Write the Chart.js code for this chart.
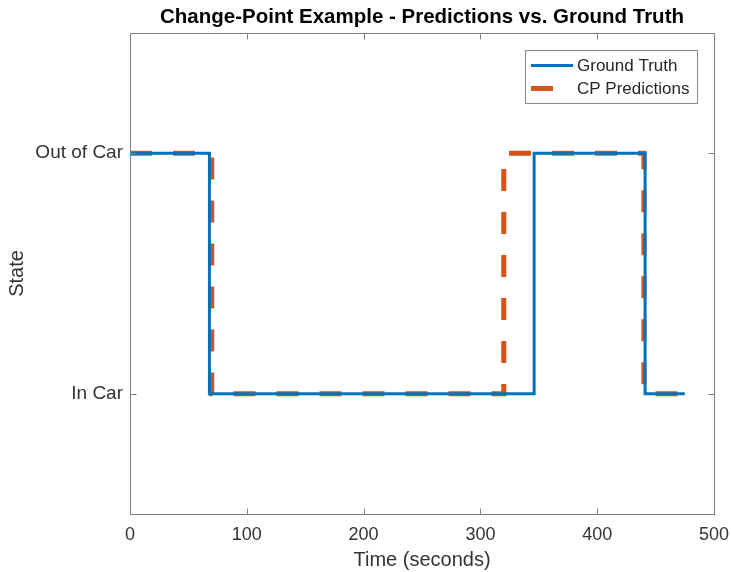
<!DOCTYPE html>
<html lang="en">
<head>
    <meta charset="UTF-8">
    <title>Change-Point Example</title>
    <script src="https://cdn.jsdelivr.net/npm/chart.js"></script>
    <style>
        body { margin: 0; background: #fff; }
        #chart-container { width: 731px; height: 572px; }
    </style>
</head>
<body>
    <div id="chart-container">
        <canvas id="cpChart" width="731" height="572"></canvas>
    </div>

    <script>
        // step data: each point is where the state changes
        const gtTimes = [0, 68, 346, 441, 475];
        const gtStates = [2, 1, 2, 1, 1];
        const predTimes = [0, 70, 320, 440, 475];
        const predStates = [2, 1, 2, 1, 1];

        const xTicks = [0, 100, 200, 300, 400, 500];
        const stateValues = [1, 2];
        const stateLabels = ["In Car", "Out of Car"];

        const titleText = "Change-Point Example - Predictions vs. Ground Truth";

        const FONT = "'Liberation Sans', Arial, sans-serif";
        const BLUE = "#0072BD";
        const ORANGE = "#D95319";

        function toPoints(xs, ys) {
            return xs.map((x, i) => ({ x: x, y: ys[i] }));
        }

        // box around the plot with inward ticks on all four sides, title over the plot
        const boxPlugin = {
            id: "boxPlugin",
            afterDatasetsDraw(chart) {
                const { ctx, chartArea: a, scales } = chart;
                const L = Math.round(a.left) + 0.5, R = Math.round(a.right) + 0.5;
                const T = Math.round(a.top) + 0.5, B = Math.round(a.bottom) + 0.5;
                ctx.save();
                ctx.strokeStyle = "#808080";
                ctx.lineWidth = 1;
                ctx.strokeRect(L, T, R - L, B - T);
                ctx.beginPath();
                xTicks.forEach(v => {
                    const px = Math.round(scales.x.getPixelForValue(v)) + 0.5;
                    ctx.moveTo(px, B); ctx.lineTo(px, B - 6);
                    ctx.moveTo(px, T); ctx.lineTo(px, T + 6);
                });
                stateValues.forEach(v => {
                    const py = Math.round(scales.y.getPixelForValue(v)) + 0.5;
                    ctx.moveTo(L, py); ctx.lineTo(L + 6, py);
                    ctx.moveTo(R, py); ctx.lineTo(R - 6, py);
                });
                ctx.stroke();

                ctx.fillStyle = "#000";
                ctx.font = "bold 20.5px " + FONT;
                ctx.textAlign = "center";
                ctx.textBaseline = "middle";
                ctx.fillText(titleText, (a.left + a.right) / 2, 17);
                ctx.restore();
            }
        };

        // MATLAB-like legend box in the upper right corner
        const legendPlugin = {
            id: "legendPlugin",
            afterDraw(chart) {
                const { ctx } = chart;
                const x0 = 525, y0 = 50, w = 172, h = 53;
                ctx.save();
                ctx.fillStyle = "#fff";
                ctx.fillRect(x0, y0, w, h);
                ctx.strokeStyle = "#8a8a8a";
                ctx.lineWidth = 1;
                ctx.strokeRect(x0 + 0.5, y0 + 0.5, w, h);
                chart.data.datasets.forEach((ds, i) => {
                    const y = y0 + 15.5 + i * 23;
                    ctx.beginPath();
                    ctx.strokeStyle = ds.borderColor;
                    ctx.lineWidth = ds.borderWidth;
                    ctx.setLineDash(ds.borderDash || []);
                    ctx.moveTo(531, y);
                    ctx.lineTo(573, y);
                    ctx.stroke();
                    ctx.setLineDash([]);
                    ctx.fillStyle = "#262626";
                    ctx.font = "17px " + FONT;
                    ctx.textBaseline = "middle";
                    ctx.fillText(ds.label, 577, y + 1);
                });
                ctx.restore();
            }
        };

        const ctx = document.getElementById("cpChart").getContext("2d");
        new Chart(ctx, {
            type: "line",
            data: {
                datasets: [
                    {
                        label: "Ground Truth",
                        data: toPoints(gtTimes, gtStates),
                        borderColor: BLUE,
                        borderWidth: 3,
                        stepped: "before",
                        pointRadius: 0,
                        fill: false
                    },
                    {
                        label: "CP Predictions",
                        data: toPoints(predTimes, predStates),
                        borderColor: ORANGE,
                        borderWidth: 5,
                        borderDash: [22, 21],
                        stepped: "before",
                        pointRadius: 0,
                        fill: false
                    }
                ]
            },
            options: {
                responsive: false,
                animation: false,
                layout: { padding: { top: 33, right: 17, bottom: 0, left: 0 } },
                plugins: {
                    legend: { display: false },
                    tooltip: { enabled: false },
                    title: { display: false }
                },
                scales: {
                    x: {
                        type: "linear",
                        min: 0,
                        max: 500,
                        afterBuildTicks: s => { s.ticks = xTicks.map(v => ({ value: v })); },
                        afterFit: s => {
                            s.height = 58;
                            s.paddingLeft = 0;
                            s.paddingRight = 0;
                        },
                        grid: { display: false, drawTicks: false },
                        border: { display: false },
                        ticks: {
                            color: "#333",
                            padding: 10,
                            maxRotation: 0,
                            font: { family: FONT, size: 18 }
                        },
                        title: {
                            display: true,
                            text: "Time (seconds)",
                            color: "#333",
                            font: { family: FONT, size: 20 },
                            padding: { top: 0, bottom: 0 }
                        }
                    },
                    y: {
                        type: "linear",
                        min: 0.5,
                        max: 2.5,
                        afterBuildTicks: s => { s.ticks = stateValues.map(v => ({ value: v })); },
                        afterFit: s => { s.width = 130; },
                        grid: { display: false, drawTicks: false },
                        border: { display: false },
                        ticks: {
                            color: "#333",
                            padding: 7,
                            font: { family: FONT, size: 19 },
                            callback: v => stateLabels[stateValues.indexOf(v)]
                        },
                        title: {
                            display: true,
                            text: "State",
                            color: "#333",
                            font: { family: FONT, size: 20 },
                            padding: { top: 5, bottom: 0 }
                        }
                    }
                }
            },
            plugins: [boxPlugin, legendPlugin]
        });
    </script>
</body>
</html>
